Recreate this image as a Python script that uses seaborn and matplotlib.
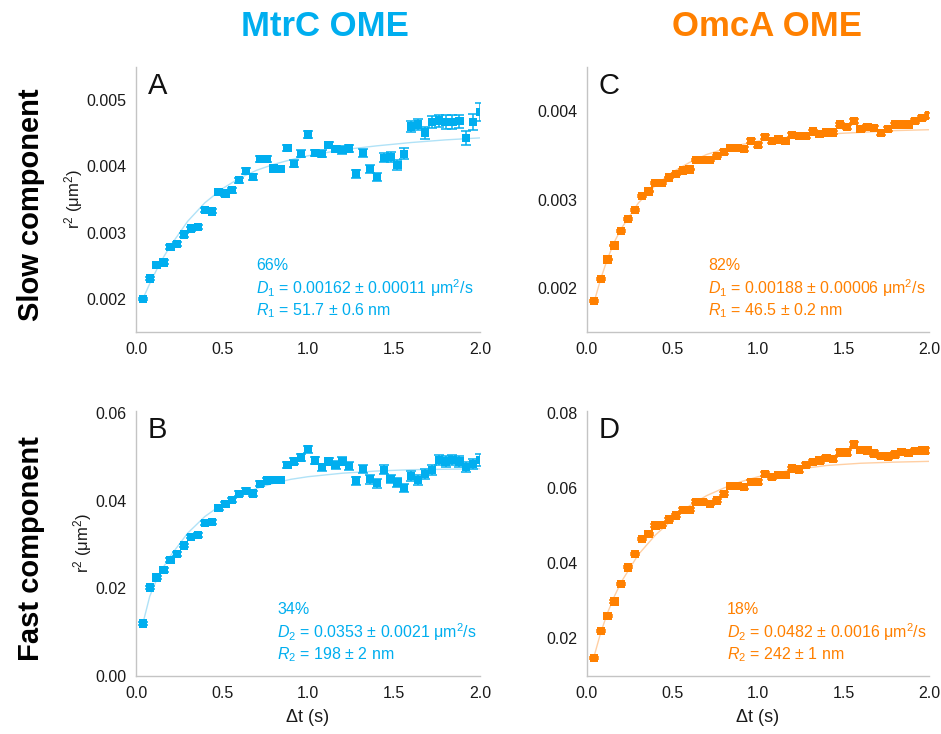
import matplotlib
matplotlib.use("Agg")
import numpy as np
import pandas as pd
import matplotlib.pyplot as plt
import seaborn as sns
from matplotlib.ticker import MultipleLocator, FormatStrFormatter

# lag times (s)
dt = [0.04, 0.08, 0.12, 0.16, 0.20, 0.24, 0.28, 0.32, 0.36, 0.40,
      0.44, 0.48, 0.52, 0.56, 0.60, 0.64, 0.68, 0.72, 0.76, 0.80,
      0.84, 0.88, 0.92, 0.96, 1.00, 1.04, 1.08, 1.12, 1.16, 1.20,
      1.24, 1.28, 1.32, 1.36, 1.40, 1.44, 1.48, 1.52, 1.56, 1.60,
      1.64, 1.68, 1.72, 1.76, 1.80, 1.84, 1.88, 1.92, 1.96, 2.00]

# A: MtrC slow component
r2_a = [0.00200, 0.00231, 0.00251, 0.00255, 0.00278, 0.00283, 0.00297, 0.00306, 0.00308, 0.00334,
        0.00332, 0.00361, 0.00359, 0.00364, 0.00379, 0.00393, 0.00384, 0.00411, 0.00411, 0.00397,
        0.00396, 0.00428, 0.00404, 0.00419, 0.00448, 0.00420, 0.00419, 0.00432, 0.00426, 0.00425,
        0.00427, 0.00389, 0.00420, 0.00396, 0.00384, 0.00413, 0.00414, 0.00402, 0.00419, 0.00460,
        0.00463, 0.00451, 0.00467, 0.00469, 0.00467, 0.00467, 0.00468, 0.00443, 0.00467, 0.00482]
err_a = [0.00002, 0.00002, 0.00002, 0.00003, 0.00003, 0.00003, 0.00003, 0.00003, 0.00003, 0.00003,
         0.00003, 0.00003, 0.00004, 0.00004, 0.00004, 0.00004, 0.00004, 0.00004, 0.00004, 0.00004,
         0.00005, 0.00005, 0.00005, 0.00005, 0.00005, 0.00005, 0.00005, 0.00005, 0.00005, 0.00006,
         0.00006, 0.00006, 0.00006, 0.00006, 0.00006, 0.00007, 0.00007, 0.00007, 0.00008, 0.00008,
         0.00008, 0.00009, 0.00009, 0.00009, 0.00010, 0.00010, 0.00010, 0.00011, 0.00012, 0.00013]

# B: MtrC fast component
r2_b = [0.0120, 0.0202, 0.0225, 0.0242, 0.0265, 0.0278, 0.0298, 0.0318, 0.0322, 0.0349,
        0.0351, 0.0383, 0.0393, 0.0402, 0.0416, 0.0423, 0.0417, 0.0439, 0.0446, 0.0448,
        0.0448, 0.0482, 0.0490, 0.0499, 0.0518, 0.0492, 0.0477, 0.0490, 0.0482, 0.0490,
        0.0480, 0.0446, 0.0472, 0.0449, 0.0440, 0.0471, 0.0450, 0.0442, 0.0429, 0.0457,
        0.0448, 0.0461, 0.0471, 0.0493, 0.0490, 0.0493, 0.0490, 0.0477, 0.0484, 0.0493]
err_b = [0.0003, 0.0003, 0.0003, 0.0004, 0.0004, 0.0004, 0.0004, 0.0004, 0.0005, 0.0005,
         0.0005, 0.0005, 0.0005, 0.0005, 0.0006, 0.0006, 0.0006, 0.0006, 0.0006, 0.0007,
         0.0007, 0.0007, 0.0007, 0.0008, 0.0008, 0.0008, 0.0008, 0.0008, 0.0009, 0.0009,
         0.0009, 0.0009, 0.0009, 0.0010, 0.0010, 0.0010, 0.0010, 0.0010, 0.0010, 0.0011,
         0.0011, 0.0011, 0.0011, 0.0011, 0.0012, 0.0012, 0.0012, 0.0012, 0.0012, 0.0013]

# C: OmcA slow component
r2_c = [0.00185, 0.00210, 0.00232, 0.00248, 0.00264, 0.00278, 0.00288, 0.00304, 0.00309, 0.00319,
        0.00319, 0.00325, 0.00329, 0.00333, 0.00334, 0.00345, 0.00345, 0.00345, 0.00349, 0.00354,
        0.00358, 0.00358, 0.00357, 0.00366, 0.00362, 0.00371, 0.00366, 0.00368, 0.00366, 0.00373,
        0.00372, 0.00372, 0.00377, 0.00374, 0.00376, 0.00376, 0.00385, 0.00382, 0.00389, 0.00380,
        0.00382, 0.00381, 0.00375, 0.00380, 0.00385, 0.00385, 0.00385, 0.00389, 0.00392, 0.00395]
err_c = [0.00001, 0.00001, 0.00001, 0.00001, 0.00001, 0.00001, 0.00001, 0.00001, 0.00001, 0.00001,
         0.00001, 0.00001, 0.00001, 0.00001, 0.00001, 0.00001, 0.00001, 0.00001, 0.00001, 0.00002,
         0.00002, 0.00002, 0.00002, 0.00002, 0.00002, 0.00002, 0.00002, 0.00002, 0.00002, 0.00002,
         0.00002, 0.00002, 0.00002, 0.00002, 0.00002, 0.00002, 0.00002, 0.00002, 0.00002, 0.00002,
         0.00002, 0.00002, 0.00002, 0.00002, 0.00002, 0.00002, 0.00002, 0.00002, 0.00002, 0.00003]

# D: OmcA fast component
r2_d = [0.0148, 0.0220, 0.0260, 0.0298, 0.0345, 0.0389, 0.0424, 0.0465, 0.0478, 0.0500,
        0.0502, 0.0516, 0.0527, 0.0542, 0.0542, 0.0563, 0.0563, 0.0558, 0.0567, 0.0585,
        0.0606, 0.0606, 0.0603, 0.0616, 0.0616, 0.0637, 0.0629, 0.0634, 0.0634, 0.0652,
        0.0649, 0.0662, 0.0669, 0.0673, 0.0680, 0.0677, 0.0695, 0.0695, 0.0716, 0.0702,
        0.0700, 0.0692, 0.0686, 0.0684, 0.0689, 0.0696, 0.0693, 0.0698, 0.0700, 0.0700]
err_d = [0.0002, 0.0003, 0.0003, 0.0003, 0.0003, 0.0003, 0.0003, 0.0003, 0.0003, 0.0004,
         0.0004, 0.0004, 0.0004, 0.0004, 0.0004, 0.0004, 0.0004, 0.0004, 0.0004, 0.0004,
         0.0005, 0.0005, 0.0005, 0.0005, 0.0005, 0.0005, 0.0005, 0.0005, 0.0005, 0.0005,
         0.0005, 0.0005, 0.0005, 0.0006, 0.0006, 0.0006, 0.0006, 0.0006, 0.0006, 0.0006,
         0.0006, 0.0006, 0.0006, 0.0006, 0.0006, 0.0006, 0.0006, 0.0006, 0.0006, 0.0006]

# fitted curves
fit_t = [0.04, 0.08, 0.12, 0.16, 0.20, 0.30, 0.40, 0.50, 0.60, 0.70,
         0.80, 0.90, 1.00, 1.20, 1.40, 1.60, 1.80, 2.00]
fit_a = [0.00200, 0.00223, 0.00244, 0.00263, 0.00280, 0.00317, 0.00345, 0.00366, 0.00382, 0.00394,
         0.00403, 0.00410, 0.00416, 0.00425, 0.00431, 0.00436, 0.00440, 0.00443]
fit_b = [0.0120, 0.0182, 0.0220, 0.0249, 0.0274, 0.0326, 0.0364, 0.0392, 0.0413, 0.0428,
         0.0440, 0.0449, 0.0455, 0.0463, 0.0468, 0.0471, 0.0472, 0.0473]
fit_c = [0.00183, 0.00210, 0.00233, 0.00252, 0.00267, 0.00296, 0.00316, 0.00331, 0.00342, 0.00351,
         0.00357, 0.00362, 0.00366, 0.00371, 0.00374, 0.00376, 0.00378, 0.00379]
fit_d = [0.0150, 0.0215, 0.0268, 0.0312, 0.0350, 0.0423, 0.0475, 0.0516, 0.0553, 0.0580,
         0.0600, 0.0617, 0.0630, 0.0648, 0.0660, 0.0666, 0.0669, 0.0671]

panel_letters = ["A", "B", "C", "D"]
percent = ["66%", "34%", "82%", "18%"]
diff_text = [r"$\mathit{D}_1$ = 0.00162 ± 0.00011 μm$^2$/s",
             r"$\mathit{D}_2$ = 0.0353 ± 0.0021 μm$^2$/s",
             r"$\mathit{D}_1$ = 0.00188 ± 0.00006 μm$^2$/s",
             r"$\mathit{D}_2$ = 0.0482 ± 0.0016 μm$^2$/s"]
radius_text = [r"$\mathit{R}_1$ = 51.7 ± 0.6 nm",
               r"$\mathit{R}_2$ = 198 ± 2 nm",
               r"$\mathit{R}_1$ = 46.5 ± 0.2 nm",
               r"$\mathit{R}_2$ = 242 ± 1 nm"]

BLUE = "#00AEEF"
ORANGE = "#FF8000"
BLUE_FIT = "#B0E2F7"
ORANGE_FIT = "#FFCFA3"
SPINE = "#C4C4C4"

sns.set_style("white")
plt.rcParams["font.family"] = ["Liberation Sans", "DejaVu Sans"]
plt.rcParams["mathtext.fontset"] = "custom"
plt.rcParams["mathtext.rm"] = "Liberation Sans"
plt.rcParams["mathtext.it"] = "Liberation Sans:italic"

fig = plt.figure(figsize=(9.41, 7.34), dpi=100)

W, H = 941, 734
def axes_px(x0, x1, y0, y1):
    return fig.add_axes([x0 / W, 1 - y1 / H, (x1 - x0) / W, (y1 - y0) / H])

ax_a = axes_px(136, 480, 67, 332)
ax_b = axes_px(136, 480, 411, 676)
ax_c = axes_px(587, 929, 67, 332)
ax_d = axes_px(587, 929, 411, 676)

panels = [
    (ax_a, r2_a, err_a, fit_a, BLUE, BLUE_FIT, (0.0015, 0.0055), 0.001, "%.3f", 0.349),
    (ax_b, r2_b, err_b, fit_b, BLUE, BLUE_FIT, (0.0, 0.0605), 0.02, "%.2f", 0.41),
    (ax_c, r2_c, err_c, fit_c, ORANGE, ORANGE_FIT, (0.0015, 0.0045), 0.001, "%.3f", 0.354),
    (ax_d, r2_d, err_d, fit_d, ORANGE, ORANGE_FIT, (0.01, 0.0805), 0.02, "%.2f", 0.41),
]

for i, (ax, r2, err, fit, col, fcol, ylim, ymaj, yfmt, tx) in enumerate(panels):
    df = pd.DataFrame({"dt": dt, "r2": r2, "err": err})
    fdf = pd.DataFrame({"t": fit_t, "fit": fit})
    sns.lineplot(data=fdf, x="t", y="fit", ax=ax, color=fcol, lw=1.0, zorder=1)
    ax.errorbar(df["dt"], df["r2"], yerr=df["err"], fmt="none", ecolor=col,
                elinewidth=1.1, capsize=3.4, capthick=1.1, zorder=2)
    sns.scatterplot(data=df, x="dt", y="r2", ax=ax, marker="s", s=36,
                    color=col, edgecolor="none", zorder=3)

    ax.set_xlim(0, 2.0)
    ax.set_ylim(*ylim)
    ax.xaxis.set_major_locator(MultipleLocator(0.5))
    ax.xaxis.set_minor_locator(MultipleLocator(0.25))
    ax.xaxis.set_major_formatter(FormatStrFormatter("%.1f"))
    ax.yaxis.set_major_locator(MultipleLocator(ymaj))
    ax.yaxis.set_minor_locator(MultipleLocator(ymaj / 2))
    ax.yaxis.set_major_formatter(FormatStrFormatter(yfmt))
    sns.despine(ax=ax)
    for s in ("left", "bottom"):
        ax.spines[s].set_color(SPINE)
        ax.spines[s].set_linewidth(1.0)
    ax.tick_params(which="both", direction="out", colors=SPINE, labelcolor="#1a1a1a",
                   labelsize=11.5, width=0.8)
    ax.tick_params(which="major", length=4, pad=3)
    ax.tick_params(which="minor", length=2.5)

    ax.set_xlabel("")
    ax.set_ylabel("")

    ax.text(0.035, 0.98, panel_letters[i], transform=ax.transAxes, fontsize=21,
            ha="left", va="top", color="#111111")
    ax.text(tx, 0.25, percent[i], transform=ax.transAxes, fontsize=11.5,
            color=col, ha="left", va="center")
    ax.text(tx, 0.167, diff_text[i], transform=ax.transAxes, fontsize=11.5,
            color=col, ha="left", va="center")
    ax.text(tx, 0.08, radius_text[i], transform=ax.transAxes, fontsize=11.5,
            color=col, ha="left", va="center")

for ax in (ax_a, ax_b):
    ax.set_ylabel(r"r$^2$ (μm$^2$)", fontsize=12, color="#1a1a1a", labelpad=1)
for ax in (ax_b, ax_d):
    ax.set_xlabel("Δt (s)", fontsize=13, color="#1a1a1a", labelpad=6)

fig.text(325 / W, 1 - 27 / H, "MtrC OME", ha="center", va="center",
         fontsize=25, fontweight="bold", color=BLUE)
fig.text(767 / W, 1 - 27 / H, "OmcA OME", ha="center", va="center",
         fontsize=25, fontweight="bold", color=ORANGE)
fig.text(31 / W, 1 - 205 / H, "Slow component", ha="center", va="center",
         rotation=90, fontsize=21, fontweight="bold", color="black")
fig.text(31 / W, 1 - 549 / H, "Fast component", ha="center", va="center",
         rotation=90, fontsize=21, fontweight="bold", color="black")

fig.savefig("out.png", dpi=100)
